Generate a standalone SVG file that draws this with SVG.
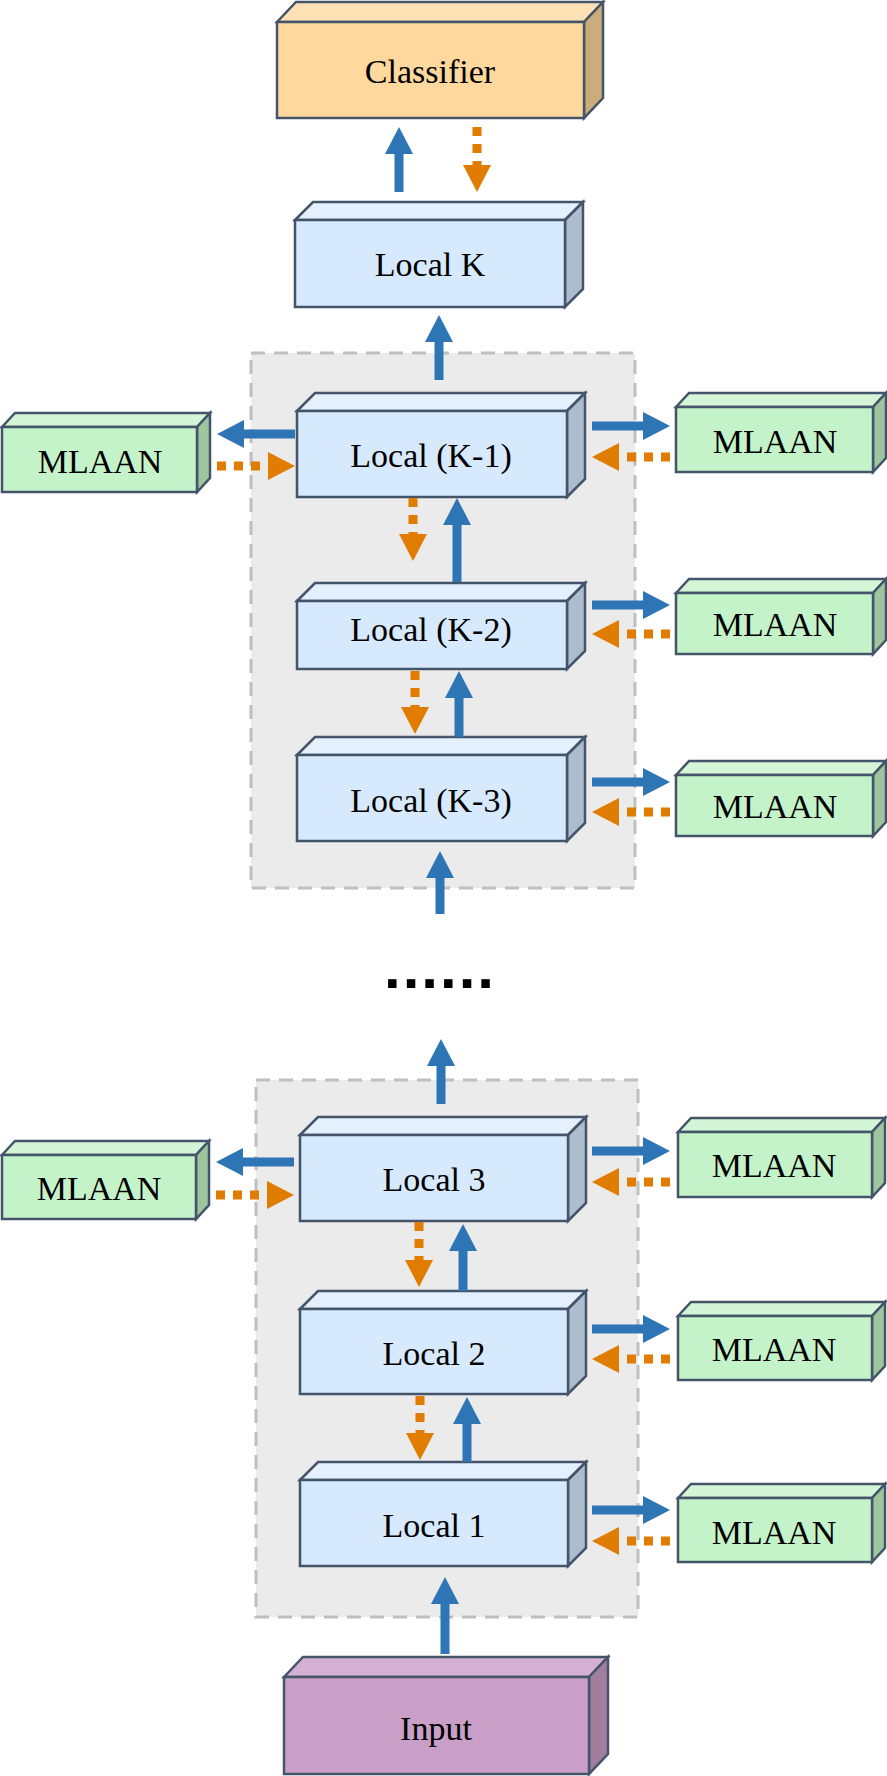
<svg xmlns="http://www.w3.org/2000/svg" width="887" height="1776" viewBox="0 0 887 1776">
<style>
.s{stroke:#44546a;stroke-width:2.5;stroke-linejoin:miter}
.lf{fill:#d6e9fd}.lt{fill:#e4f0fd}.ls{fill:#adbdce}
.gf{fill:#c5f3c9}.gt{fill:#d4f6d6}.gs{fill:#9dc69e}
.cf{fill:#fed89c}.ct{fill:#fee2b5}.cs{fill:#cdac7b}
.if{fill:#c99fc8}.it{fill:#d4b0d3}.is{fill:#a27e9e}
text{font-family:"Liberation Serif","DejaVu Serif",serif;font-size:34px;fill:#000;text-anchor:middle}
.b{stroke:#2e75b6;stroke-width:9;fill:none}
.o{stroke:#e07d00;stroke-width:9;fill:none;stroke-dasharray:9 8}
.grp{fill:#ebebeb;stroke:#bfbfbf;stroke-width:3;stroke-dasharray:14 9}
</style>
<defs>
<marker id="hb" markerUnits="userSpaceOnUse" markerWidth="27" markerHeight="28" refX="7" refY="14" orient="auto"><path d="M0,0L27,14L0,28z" fill="#2e75b6"/></marker>
<marker id="ho" markerUnits="userSpaceOnUse" markerWidth="27" markerHeight="28" refX="7" refY="14" orient="auto"><path d="M0,0L27,14L0,28z" fill="#e07d00"/></marker>
</defs>
<g id="group1"><rect class="grp" x="251" y="353" width="384" height="535"/></g>
<g id="group2"><rect class="grp" x="256" y="1080" width="382" height="537"/></g>

<g id="classifier"><path class="s ct" d="M277,22L296,2H603L584,22Z"/><path class="s cs" d="M584,22L603,2V98L584,118Z"/><rect class="s cf" x="277" y="22" width="307" height="96"/><text x="430" y="83">Classifier</text></g>
<g id="localK"><path class="s lt" d="M295,220L313,202H583L565,220Z"/><path class="s ls" d="M565,220L583,202V289L565,307Z"/><rect class="s lf" x="295" y="220" width="270" height="87"/><text x="430" y="276">Local K</text></g>
<g id="localK1"><path class="s lt" d="M297,411L315,393H585L567,411Z"/><path class="s ls" d="M567,411L585,393V479L567,497Z"/><rect class="s lf" x="297" y="411" width="270" height="86"/><text x="431" y="467">Local (K-1)</text></g>
<g id="localK2"><path class="s lt" d="M297,601L315,583H585L567,601Z"/><path class="s ls" d="M567,601L585,583V651L567,669Z"/><rect class="s lf" x="297" y="601" width="270" height="68"/><text x="431" y="641">Local (K-2)</text></g>
<g id="localK3"><path class="s lt" d="M297,755L315,737H585L567,755Z"/><path class="s ls" d="M567,755L585,737V823L567,841Z"/><rect class="s lf" x="297" y="755" width="270" height="86"/><text x="431" y="812">Local (K-3)</text></g>
<g id="local3"><path class="s lt" d="M300,1135L318,1117H586L568,1135Z"/><path class="s ls" d="M568,1135L586,1117V1203L568,1221Z"/><rect class="s lf" x="300" y="1135" width="268" height="86"/><text x="434" y="1191">Local 3</text></g>
<g id="local2"><path class="s lt" d="M300,1309L318,1291H586L568,1309Z"/><path class="s ls" d="M568,1309L586,1291V1376L568,1394Z"/><rect class="s lf" x="300" y="1309" width="268" height="85"/><text x="434" y="1365">Local 2</text></g>
<g id="local1"><path class="s lt" d="M300,1480L318,1462H586L568,1480Z"/><path class="s ls" d="M568,1480L586,1462V1548L568,1566Z"/><rect class="s lf" x="300" y="1480" width="268" height="86"/><text x="434" y="1537">Local 1</text></g>
<g id="input"><path class="s it" d="M284,1677L303,1657H608L589,1677Z"/><path class="s is" d="M589,1677L608,1657V1754L589,1774Z"/><rect class="s if" x="284" y="1677" width="305" height="97"/><text x="436" y="1740">Input</text></g>

<g id="mlaanLK1"><path class="s gt" d="M2,427L15,413H210L197,427Z"/><path class="s gs" d="M197,427L210,413V478L197,492Z"/><rect class="s gf" x="2" y="427" width="195" height="65"/><text x="100" y="473">MLAAN</text></g>
<g id="mlaanRK1"><path class="s gt" d="M676,407L689,393H886L873,407Z"/><path class="s gs" d="M873,407L886,393V458L873,472Z"/><rect class="s gf" x="676" y="407" width="197" height="65"/><text x="775" y="453">MLAAN</text></g>
<g id="mlaanRK2"><path class="s gt" d="M676,593L689,579H886L873,593Z"/><path class="s gs" d="M873,593L886,579V640L873,654Z"/><rect class="s gf" x="676" y="593" width="197" height="61"/><text x="775" y="636">MLAAN</text></g>
<g id="mlaanRK3"><path class="s gt" d="M676,775L689,761H886L873,775Z"/><path class="s gs" d="M873,775L886,761V822L873,836Z"/><rect class="s gf" x="676" y="775" width="197" height="61"/><text x="775" y="818">MLAAN</text></g>
<g id="mlaanL3"><path class="s gt" d="M2,1155L15,1141H209L196,1155Z"/><path class="s gs" d="M196,1155L209,1141V1205L196,1219Z"/><rect class="s gf" x="2" y="1155" width="194" height="64"/><text x="99" y="1200">MLAAN</text></g>
<g id="mlaanR3"><path class="s gt" d="M678,1132L691,1118H885L872,1132Z"/><path class="s gs" d="M872,1132L885,1118V1183L872,1197Z"/><rect class="s gf" x="678" y="1132" width="194" height="65"/><text x="774" y="1177">MLAAN</text></g>
<g id="mlaanR2"><path class="s gt" d="M678,1316L691,1302H885L872,1316Z"/><path class="s gs" d="M872,1316L885,1302V1366L872,1380Z"/><rect class="s gf" x="678" y="1316" width="194" height="64"/><text x="774" y="1361">MLAAN</text></g>
<g id="mlaanR1"><path class="s gt" d="M678,1498L691,1484H885L872,1498Z"/><path class="s gs" d="M872,1498L885,1484V1548L872,1562Z"/><rect class="s gf" x="678" y="1498" width="194" height="64"/><text x="774" y="1544">MLAAN</text></g>

<text id="ellipsis" x="440" y="988" style="font-family:'Liberation Sans',sans-serif;font-weight:bold;font-size:60px;letter-spacing:2px">......</text>

<g id="connectors">
<path class="b" marker-end="url(#hb)" d="M399,192V147"/>
<path class="o" marker-end="url(#ho)" d="M477,127V172"/>
<path class="b" marker-end="url(#hb)" d="M439,380V335"/>
<path class="b" marker-end="url(#hb)" d="M457,582V518"/>
<path class="o" marker-end="url(#ho)" d="M413,498V541"/>
<path class="b" marker-end="url(#hb)" d="M459,737V691"/>
<path class="o" marker-end="url(#ho)" d="M415,671V714"/>
<path class="b" marker-end="url(#hb)" d="M440,914V871"/>
<path class="b" marker-end="url(#hb)" d="M441,1104V1059"/>
<path class="b" marker-end="url(#hb)" d="M463,1291V1244"/>
<path class="o" marker-end="url(#ho)" d="M419,1222V1267"/>
<path class="b" marker-end="url(#hb)" d="M467,1462V1417"/>
<path class="o" marker-end="url(#ho)" d="M420,1396V1440"/>
<path class="b" marker-end="url(#hb)" d="M445,1654V1597"/>
<path class="b" marker-end="url(#hb)" d="M295,434H237"/>
<path class="o" marker-end="url(#ho)" d="M217,466H275"/>
<path class="b" marker-end="url(#hb)" d="M592,426H650"/>
<path class="o" marker-end="url(#ho)" d="M670,457H612"/>
<path class="b" marker-end="url(#hb)" d="M592,605H650"/>
<path class="o" marker-end="url(#ho)" d="M670,634H612"/>
<path class="b" marker-end="url(#hb)" d="M592,782H650"/>
<path class="o" marker-end="url(#ho)" d="M670,812H612"/>
<path class="b" marker-end="url(#hb)" d="M294,1162H236"/>
<path class="o" marker-end="url(#ho)" d="M216,1195H274"/>
<path class="b" marker-end="url(#hb)" d="M592,1151H650"/>
<path class="o" marker-end="url(#ho)" d="M670,1182H612"/>
<path class="b" marker-end="url(#hb)" d="M592,1329H650"/>
<path class="o" marker-end="url(#ho)" d="M670,1359H612"/>
<path class="b" marker-end="url(#hb)" d="M592,1510H650"/>
<path class="o" marker-end="url(#ho)" d="M670,1541H612"/>
</g>
</svg>
